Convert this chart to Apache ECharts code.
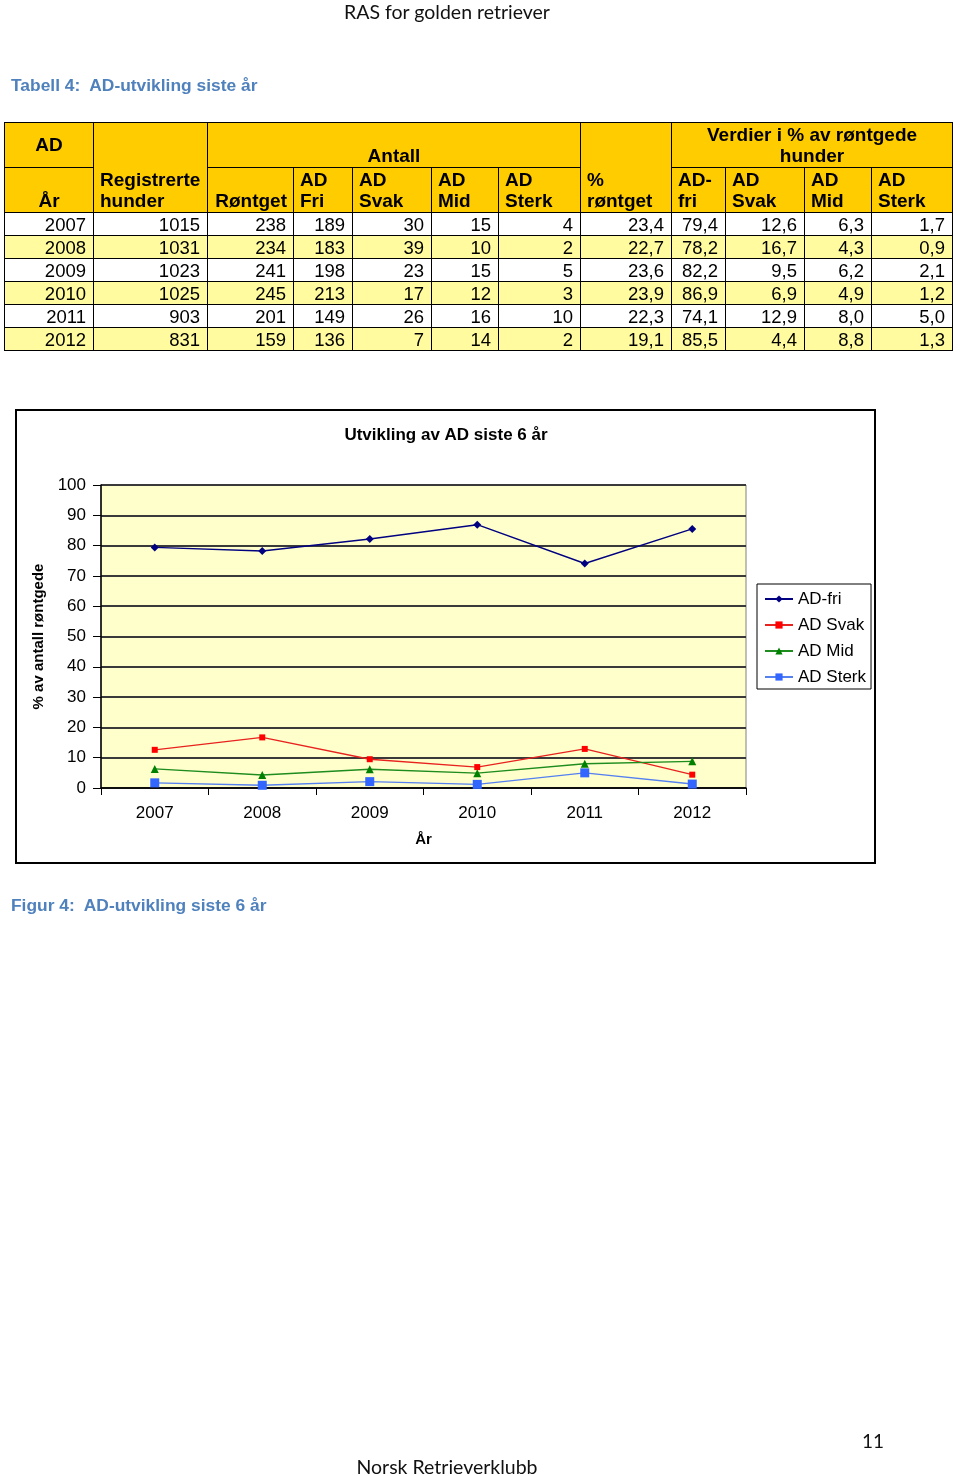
<!DOCTYPE html>
<html><head><meta charset="utf-8">
<script src="https://cdn.jsdelivr.net/npm/echarts@6/dist/echarts.min.js"></script>
<style>
html,body{margin:0;padding:0;background:#fff;}
body{width:960px;height:1476px;position:relative;overflow:hidden;font-family:"Liberation Sans",Arial,sans-serif;}
#chart{position:absolute;left:0;top:0;width:960px;height:1476px;z-index:0;}
.t{position:absolute;white-space:nowrap;z-index:1;}
#pagehead{left:0;width:894px;text-align:center;top:0;font-family:Lato,"Open Sans",sans-serif;font-size:19.5px;line-height:24px;color:#111;}
#pagefoot{left:0;width:894px;text-align:center;top:1455px;font-family:Lato,"Open Sans",sans-serif;font-size:19.5px;line-height:24px;color:#111;}
#pagenum{left:862px;top:1429px;font-family:Lato,"Open Sans",sans-serif;font-size:19px;line-height:24px;color:#111;}
.cap{left:11px;font-weight:bold;font-size:17.4px;line-height:20px;color:#4F81BD;}
#tbl{position:absolute;left:4px;top:122px;border-collapse:collapse;table-layout:fixed;width:948px;z-index:1;font-family:"Liberation Sans",Arial,sans-serif;color:#000;}
#tbl td{border:1px solid #000;padding:0 6px;overflow:hidden;white-space:nowrap;}
#tbl tr.hd td{background:#FFCC00;font-weight:bold;font-size:19px;line-height:21px;vertical-align:bottom;text-align:left;padding-bottom:1px;}
#tbl tr.hd{height:45px;}
#tbl tr.hd td.c{text-align:center;}
#tbl tr.hd td.m{vertical-align:middle;text-align:center;}
#tbl tr.hd td.r{text-align:right;}
#tbl tr.dr{height:23px;}
#tbl tr.dr td{font-size:18.5px;line-height:21px;text-align:right;padding-right:7px;background:#fff;}
#tbl tr.alt td{background:#FFFB9E;}
</style></head>
<body>
<div id="chart"></div>
<div class="t" id="pagehead">RAS for golden retriever</div>
<div class="t cap" id="cap1" style="top:75px;">Tabell 4:&nbsp; AD-utvikling siste år</div>
<table id="tbl"></table>
<div class="t cap" id="cap2" style="top:895px;">Figur 4:&nbsp; AD-utvikling siste 6 år</div>
<div class="t" id="pagenum">11</div>
<div class="t" id="pagefoot">Norsk Retrieverklubb</div>
<script>
// ---- data ----
const years = [2007, 2008, 2009, 2010, 2011, 2012];
const registrerte = [1015, 1031, 1023, 1025, 903, 831];
const rontget = [238, 234, 241, 245, 201, 159];
const antFri = [189, 183, 198, 213, 149, 136];
const antSvak = [30, 39, 23, 17, 26, 7];
const antMid = [15, 10, 15, 12, 16, 14];
const antSterk = [4, 2, 5, 3, 10, 2];
const pctRontget = [23.4, 22.7, 23.6, 23.9, 22.3, 19.1];
const pctFri = [79.4, 78.2, 82.2, 86.9, 74.1, 85.5];
const pctSvak = [12.6, 16.7, 9.5, 6.9, 12.9, 4.4];
const pctMid = [6.3, 4.3, 6.2, 4.9, 8.0, 8.8];
const pctSterk = [1.7, 0.9, 2.1, 1.2, 5.0, 1.3];
const seriesNames = ['AD-fri', 'AD Svak', 'AD Mid', 'AD Sterk'];
const chartTitle = 'Utvikling av AD siste 6 år';
const xName = 'År';
const yName = '% av antall røntgede';
const headTop = ['AD', 'Registrerte<br>hunder', 'Antall', '%<br>røntget', 'Verdier i % av røntgede<br>hunder'];
const headSub = ['År', 'Røntget', 'AD<br>Fri', 'AD<br>Svak', 'AD<br>Mid', 'AD<br>Sterk', 'AD-<br>fri', 'AD<br>Svak', 'AD<br>Mid', 'AD<br>Sterk'];
const colWidths = [89, 114, 86, 59, 79, 67, 82, 91, 54, 79, 67, 81];

// ---- table ----
const fmt = v => v.toFixed(1).replace('.', ',');
let h = '<colgroup>' + colWidths.map(w => '<col style="width:' + w + 'px">').join('') + '</colgroup>';
h += '<tr class="hd"><td class="m">' + headTop[0] + '</td><td rowspan="2">' + headTop[1] + '</td><td colspan="5" class="c">' + headTop[2] +
     '</td><td rowspan="2">' + headTop[3] + '</td><td colspan="4" class="c">' + headTop[4] + '</td></tr>';
h += '<tr class="hd"><td class="c">' + headSub[0] + '</td><td class="r">' + headSub[1] + '</td>' +
     headSub.slice(2).map(s => '<td>' + s + '</td>').join('') + '</tr>';
years.forEach((y, i) => {
  const cells = [y, registrerte[i], rontget[i], antFri[i], antSvak[i], antMid[i], antSterk[i],
    fmt(pctRontget[i]), fmt(pctFri[i]), fmt(pctSvak[i]), fmt(pctMid[i]), fmt(pctSterk[i])];
  h += '<tr class="dr' + (i % 2 ? ' alt' : '') + '">' + cells.map(c => '<td>' + c + '</td>').join('') + '</tr>';
});
document.getElementById('tbl').innerHTML = h;

// ---- chart ----
const FONT = '"Liberation Sans", Arial, sans-serif';
const pctData = [pctFri, pctSvak, pctMid, pctSterk];
const colors = ['#000080', '#FF0000', '#008000', '#3366FF'];
const lineColors = ['#000080', '#E8221E', '#1E8C1E', '#5580F0'];
const symbols = ['diamond', 'rect', 'triangle', 'rect'];
const sizes = [8, 6, 8, 9];
const chart = echarts.init(document.getElementById('chart'));
chart.setOption({
  animation: false,
  textStyle: { fontFamily: FONT },
  graphic: [
    { type: 'rect', silent: true, shape: { x: 16, y: 410, width: 859, height: 453 }, style: { fill: 'none', stroke: '#000', lineWidth: 2 } },
    { type: 'text', silent: true, x: 446, y: 435, style: { text: chartTitle, font: 'bold 17px ' + FONT, fill: '#000', align: 'center', verticalAlign: 'middle' } }
  ],
  grid: { left: 101, top: 485, width: 645, height: 303, show: true, backgroundColor: '#FFFFCC', borderColor: '#808080', borderWidth: 1 },
  xAxis: {
    type: 'category', data: years.map(String), boundaryGap: true,
    name: xName, nameLocation: 'middle', nameGap: 44,
    nameTextStyle: { fontWeight: 'bold', fontSize: 15, color: '#000' },
    axisLine: { lineStyle: { color: '#000', width: 1.5 } },
    axisTick: { show: true, length: 7, lineStyle: { color: '#000' } },
    axisLabel: { fontSize: 17, color: '#000', margin: 17 }
  },
  yAxis: {
    type: 'value', min: 0, max: 100, interval: 10,
    name: yName, nameLocation: 'middle', nameRotate: 90, nameGap: 52,
    nameTextStyle: { fontWeight: 'bold', fontSize: 15, color: '#000' },
    axisLine: { show: true, lineStyle: { color: '#000', width: 1.5 } },
    axisTick: { show: true, length: 8, lineStyle: { color: '#000' } },
    axisLabel: { fontSize: 17, color: '#000', margin: 15 },
    splitLine: { lineStyle: { color: '#3a3a3a', width: 2 } }
  },
  legend: {
    orient: 'vertical', left: 757, top: 584, padding: [6, 5, 3, 7],
    itemWidth: 28, itemHeight: 9, itemGap: 8,
    backgroundColor: '#fff', borderColor: '#000', borderWidth: 1,
    textStyle: { fontSize: 17, color: '#000', lineHeight: 18 },
    data: seriesNames
  },
  series: seriesNames.map((n, i) => ({
    name: n, type: 'line', data: pctData[i],
    symbol: symbols[i], symbolSize: sizes[i],
    itemStyle: { color: colors[i] },
    lineStyle: { color: lineColors[i], width: 1.4 }
  }))
});
</script>
</body></html>
